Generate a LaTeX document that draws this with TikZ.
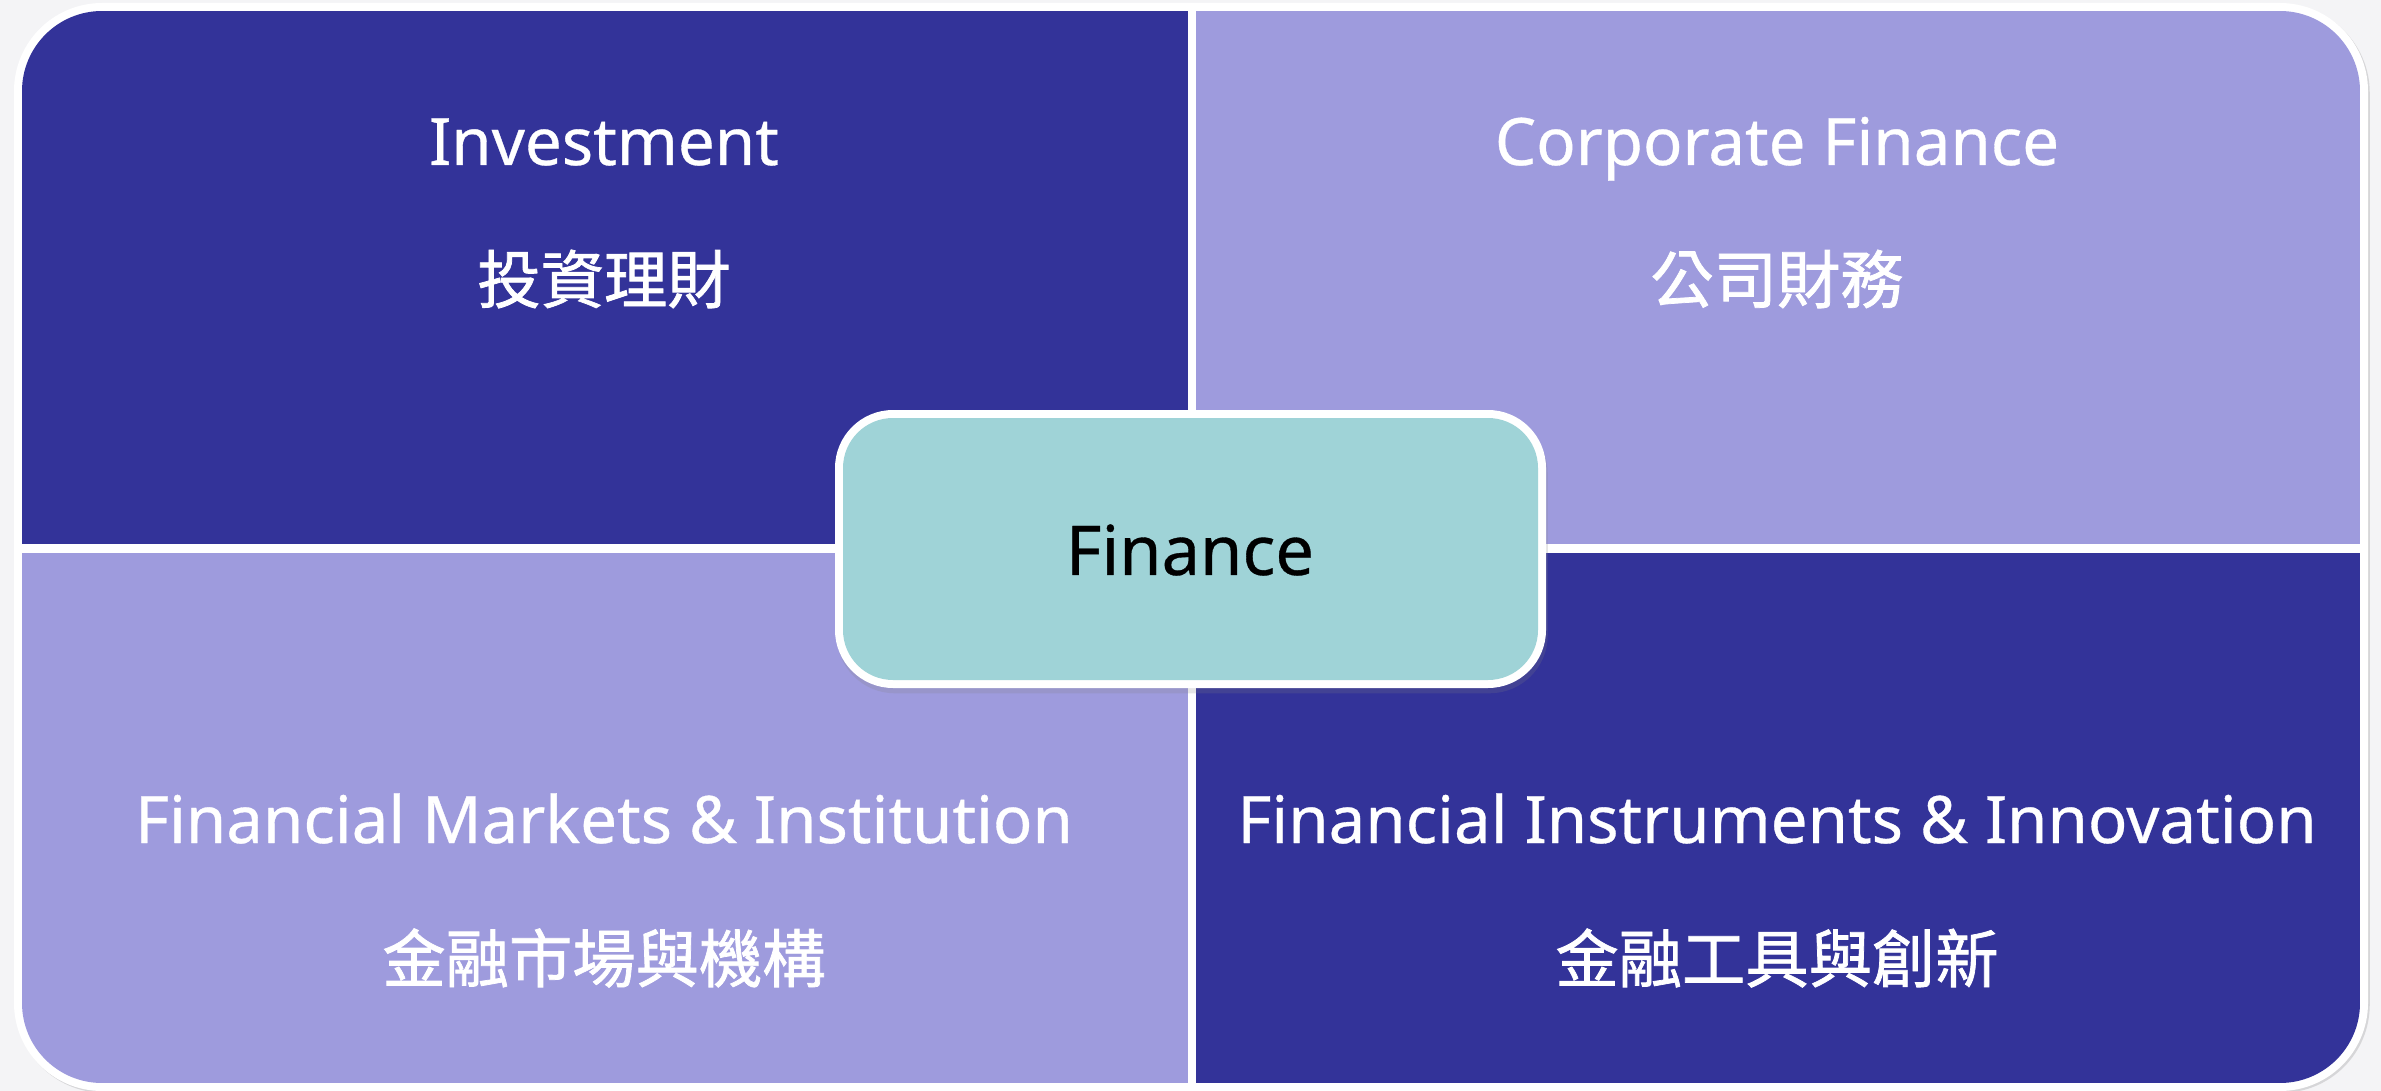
\documentclass[tikz,border=0pt]{standalone}
\usepackage{fontspec}
\setmainfont{Noto Sans}[FakeBold=0.5]
\newfontfamily\cjk{Noto Sans CJK TC}[FakeBold=1.2]
\usetikzlibrary{shadows}
\definecolor{darkblue}{HTML}{333399}
\definecolor{lightpurple}{HTML}{9E9BDD}
\definecolor{teal}{HTML}{9FD3D7}
\definecolor{backgr}{HTML}{F4F4F6}
\tikzset{
  title/.style={text=white, anchor=base, font=\fontsize{18.6}{22}\selectfont},
  subtitle/.style={text=white, font=\cjk\fontsize{18}{21}\selectfont},
}
\begin{document}
\begin{tikzpicture}[x=0.01cm, y=-0.01cm]
\useasboundingbox (0,0) rectangle (2381,1091);
\fill[backgr] (0,0) rectangle (2381,1091);
% outer frame
\fill[white, drop shadow={opacity=0.25, shadow xshift=0.5pt, shadow yshift=-0.5pt}, rounded corners=0.88cm] (14,3) rectangle (2368,1091);
\begin{scope}
\clip[rounded corners=0.8cm] (22,11) rectangle (2360,1083);
\fill[darkblue] (22,11) rectangle (1188,544);
\fill[lightpurple] (1196,11) rectangle (2360,544);
\fill[lightpurple] (22,553) rectangle (1188,1083);
\fill[darkblue] (1196,553) rectangle (2360,1083);
\end{scope}
% centre box
\fill[white, drop shadow={opacity=0.2, shadow xshift=0.5pt, shadow yshift=-1.5pt}, rounded corners=0.58cm] (835,410) rectangle (1546,688);
\fill[teal, rounded corners=0.5cm] (843,418) rectangle (1538,680);
\node[font=\fontsize{19.5}{24}\selectfont] (finance) at (1190,550) {Finance};
% quadrant labels
\node[title] (invest) at (604,165) {Investment};
\node[subtitle] (investzh) at (604,279) {投資理財};
\node[title] (corp) at (1777,165) {Corporate Finance};
\node[subtitle] (corpzh) at (1777,279) {公司財務};
\node[title] (market) at (604,843) {Financial Markets \& Institution};
\node[subtitle] (marketzh) at (604,958) {金融市場與機構};
\node[title] (instr) at (1777,843) {Financial Instruments \& Innovation};
\node[subtitle] (instrzh) at (1777,958) {金融工具與創新};
\end{tikzpicture}
\end{document}
